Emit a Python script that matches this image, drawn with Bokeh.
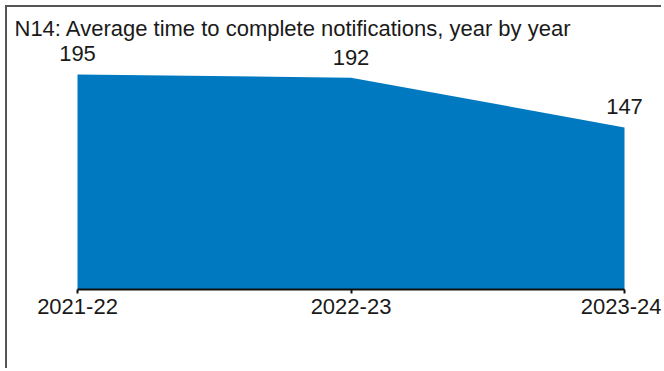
from bokeh.plotting import figure
from bokeh.models import ColumnDataSource, FixedTicker, Range1d, Title, LabelSet
from bokeh.core.properties import value
from bokeh.embed import file_html
from bokeh.resources import INLINE

years = ["2021-22", "2022-23", "2023-24"]
avg_days = [195, 192, 147]
title_text = "N14: Average time to complete notifications, year by year"

xs = list(range(len(years)))
src = ColumnDataSource(dict(x=xs, y=avg_days, lab=[str(v) for v in avg_days]))

FONT = "Liberation Sans"
TXT = "#1a1a1a"
pad = 20 / 273.5  # frame margin around the first/last category, in data units

p = figure(width=656, height=363, output_backend="svg", toolbar_location=None,
           x_range=Range1d(-pad, len(years) - 1 + pad), y_range=Range1d(0, 225.8),
           min_border_left=50, min_border_right=19, min_border_bottom=81, min_border_top=33,
           background_fill_color="white", border_fill_color="white",
           styles={"margin-left": "5px", "margin-top": "5px",
                   "border-top": "2px solid #555555", "border-left": "2px solid #555555"})
p.outline_line_color = None
p.xgrid.visible = False
p.ygrid.visible = False
p.yaxis.visible = False

p.varea(x="x", y1=0, y2="y", source=src, fill_color="#0079C1")
labels = LabelSet(x="x", y="y", text="lab", source=src, text_align="center",
                  text_baseline="alphabetic", y_offset=13, text_font=value(FONT),
                  text_font_size="22px", text_color=TXT)
p.add_layout(labels)

p.xaxis.ticker = FixedTicker(ticks=xs)
p.xaxis.bounds = (0, len(years) - 1)
p.xaxis.major_label_overrides = {i: y for i, y in zip(xs, years)}
p.xaxis.minor_tick_line_color = None
p.xaxis.major_tick_in = 0
p.xaxis.major_tick_out = 4
p.xaxis.axis_line_width = 2
p.xaxis.axis_line_color = "#111111"
p.xaxis.major_tick_line_color = "#111111"
p.xaxis.major_tick_line_width = 2
p.xaxis.major_label_text_font = FONT
p.xaxis.major_label_text_font_size = "22px"
p.xaxis.major_label_text_color = TXT
p.xaxis.major_label_standoff = 5

t = Title(text=title_text, align="left", offset=-43, standoff=0, text_font=FONT,
          text_font_size="22px", text_font_style="normal", text_color=TXT)
p.add_layout(t, "above")

open("out.html", "w").write(file_html(p, INLINE))
